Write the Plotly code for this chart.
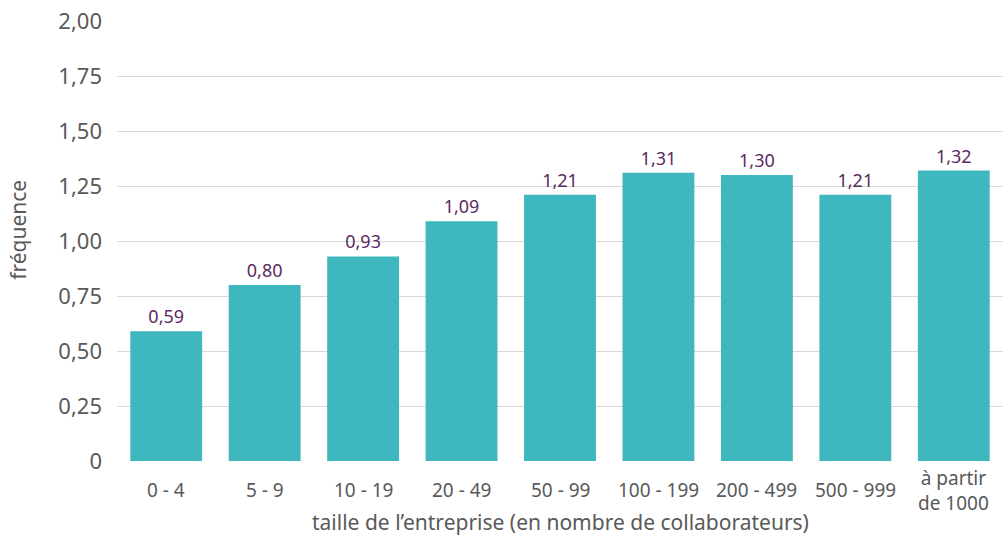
import plotly.graph_objects as go

# Taille de l'entreprise et fréquence moyenne
categories = ["0 - 4", "5 - 9", "10 - 19", "20 - 49", "50 - 99",
              "100 - 199", "200 - 499", "500 - 999", "à partir<br>de 1000"]
frequence = [0.59, 0.80, 0.93, 1.09, 1.21, 1.31, 1.30, 1.21, 1.32]

y_ticks = [0, 0.25, 0.5, 0.75, 1.0, 1.25, 1.5, 1.75, 2.0]
y_ticktext = ["0", "0,25", "0,50", "0,75", "1,00", "1,25", "1,50", "1,75", "2,00"]

FONT = "Noto Sans"
GRAY = "#595959"
BAR = "#3FB7BF"
PURPLE = "#5B2A61"

x_idx = list(range(len(categories)))

fig = go.Figure(go.Bar(
    x=x_idx,
    y=frequence,
    marker=dict(color=BAR, line=dict(width=0)),
    texttemplate="%{y:.2f}",
    textposition="outside",
    textfont=dict(family=FONT, size=18, color=PURPLE),
    cliponaxis=False,
    hoverinfo="skip",
))

# Category labels, centred vertically as a block below the axis
annotations = []
for i, lab in enumerate(categories):
    annotations.append(dict(
        x=i, y=-0.066, xref="x", yref="paper",
        text=lab, showarrow=False, xanchor="center", yanchor="middle",
        font=dict(family=FONT, size=19, color=GRAY),
    ))

annotations.append(dict(
    x=0.5, y=-0.139, xref="paper", yref="paper",
    text="taille de l’entreprise (en nombre de collaborateurs)",
    showarrow=False, xanchor="center", yanchor="middle",
    font=dict(family=FONT, size=21, color=GRAY),
))
annotations.append(dict(
    x=-0.112, y=0.525, xref="paper", yref="paper",
    text="fréquence", textangle=-90,
    showarrow=False, xanchor="center", yanchor="middle",
    font=dict(family=FONT, size=21, color=GRAY),
))

fig.update_layout(
    width=1003, height=535,
    margin=dict(l=117, r=0, t=21, b=74),
    paper_bgcolor="white", plot_bgcolor="white",
    separators=", ",
    bargap=0.27,
    showlegend=False,
    annotations=annotations,
    xaxis=dict(
        range=[-0.5, 8.5],
        showticklabels=False, showgrid=False, zeroline=False,
        showline=False, ticks="", fixedrange=True,
    ),
    yaxis=dict(
        range=[0, 2.0],
        tickvals=y_ticks, ticktext=y_ticktext,
        tickfont=dict(family=FONT, size=22, color=GRAY),
        showgrid=True, gridcolor="#D9D9D9", gridwidth=1,
        zeroline=False, showline=False, ticks="",
        ticklabelstandoff=14,
        fixedrange=True,
    ),
)

fig.write_html("out.html")
